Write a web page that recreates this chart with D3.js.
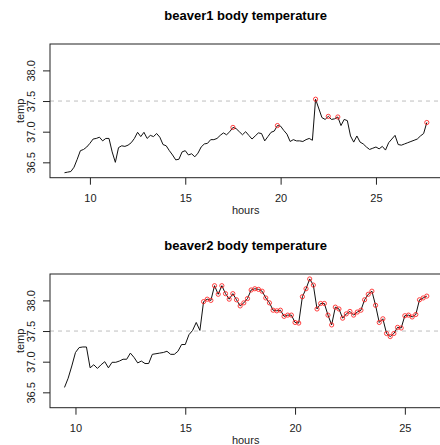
<!DOCTYPE html>
<html><head><meta charset="utf-8">
<script src="https://cdn.jsdelivr.net/npm/d3@7"></script>
<style>body{margin:0;background:#fff}svg{display:block}text{font-family:"Liberation Sans",Arial,sans-serif}</style>
</head><body>
<script>
// beaver1: day, time (HHMM), temp, activ
const b1Day = [346,346,346,346,346,346,346,346,346,346,346,346,346,346,346,346,346,346,346,346,346,346,346,346,346,346,346,346,346,346,346,346,346,346,346,346,346,346,346,346,346,346,346,346,346,346,346,346,346,346,346,346,346,346,346,346,346,346,346,346,346,346,346,346,346,346,346,346,346,346,346,346,346,346,346,346,346,346,346,346,346,346,346,346,346,346,346,346,346,346,346,347,347,347,347,347,347,347,347,347,347,347,347,347,347,347,347,347,347,347,347,347,347,347];
const b1Time = [840,850,900,910,920,930,940,950,1000,1010,1020,1030,1040,1050,1100,1110,1120,1130,1140,1150,1200,1210,1220,1230,1240,1250,1300,1310,1320,1330,1340,1350,1400,1410,1420,1430,1440,1450,1500,1510,1520,1530,1540,1550,1600,1610,1620,1630,1640,1650,1700,1710,1720,1730,1740,1750,1800,1810,1820,1830,1840,1850,1900,1910,1920,1930,1940,1950,2000,2010,2020,2030,2040,2050,2100,2110,2120,2130,2140,2150,2210,2220,2230,2240,2250,2300,2310,2320,2330,2340,2350,0,10,20,30,40,50,100,110,120,130,140,150,200,210,220,230,240,250,300,310,320,330,340];
const b1Temp = [36.33,36.34,36.35,36.42,36.55,36.69,36.71,36.75,36.81,36.88,36.89,36.91,36.85,36.89,36.89,36.67,36.50,36.74,36.77,36.76,36.78,36.82,36.89,36.99,36.92,36.99,36.89,36.94,36.92,36.97,36.91,36.79,36.77,36.69,36.62,36.54,36.55,36.67,36.69,36.62,36.64,36.59,36.65,36.75,36.80,36.81,36.87,36.87,36.89,36.94,36.98,36.95,37.00,37.07,37.05,37.00,36.95,37.00,36.94,36.88,36.93,36.98,36.97,36.85,36.92,36.99,37.01,37.10,37.09,37.02,36.96,36.84,36.87,36.85,36.85,36.84,36.87,36.89,36.86,37.53,37.23,37.20,37.25,37.20,37.21,37.24,37.10,37.20,37.18,36.93,36.83,36.93,36.83,36.80,36.75,36.71,36.73,36.75,36.72,36.76,36.70,36.82,36.88,36.94,36.79,36.78,36.80,36.82,36.84,36.86,36.88,36.93,36.97,37.15];
const b1Activ = [0,0,0,0,0,0,0,0,0,0,0,0,0,0,0,0,0,0,0,0,0,0,0,0,0,0,0,0,0,0,0,0,0,0,0,0,0,0,0,0,0,0,0,0,0,0,0,0,0,0,0,0,0,1,0,0,0,0,0,0,0,0,0,0,0,0,0,1,0,0,0,0,0,0,0,0,0,0,0,1,0,0,1,0,0,1,0,0,0,0,0,0,0,0,0,0,0,0,0,0,0,0,0,0,0,0,0,0,0,0,0,0,0,1];

// beaver2
const b2Day = [307,307,307,307,307,307,307,307,307,307,307,307,307,307,307,307,307,307,307,307,307,307,307,307,307,307,307,307,307,307,307,307,307,307,307,307,307,307,307,307,307,307,307,307,307,307,307,307,307,307,307,307,307,307,307,307,307,307,307,307,307,307,307,307,307,307,307,307,307,307,307,307,307,307,307,307,307,307,307,307,307,307,307,307,307,307,307,308,308,308,308,308,308,308,308,308,308,308,308,308];
const b2Time = [930,940,950,1000,1010,1020,1030,1040,1050,1100,1110,1120,1130,1140,1150,1200,1210,1220,1230,1240,1250,1300,1310,1320,1330,1340,1350,1400,1410,1420,1430,1440,1450,1500,1510,1520,1530,1540,1550,1600,1610,1620,1630,1640,1650,1700,1710,1720,1730,1740,1750,1800,1810,1820,1830,1840,1850,1900,1910,1920,1930,1940,1950,2000,2010,2020,2030,2040,2050,2100,2110,2120,2130,2140,2150,2200,2210,2220,2230,2240,2250,2300,2310,2320,2330,2340,2350,0,10,20,30,40,50,100,110,120,130,140,150,200];
const b2Temp = [36.58,36.73,36.93,37.15,37.23,37.24,37.24,36.90,36.95,36.89,36.95,37.00,36.90,36.99,36.99,37.01,37.04,37.04,37.14,37.07,36.98,37.01,36.97,36.97,37.12,37.13,37.14,37.15,37.17,37.12,37.12,37.17,37.28,37.28,37.44,37.51,37.64,37.51,37.98,38.02,38.00,38.24,38.10,38.24,38.11,38.02,38.11,38.01,37.91,37.96,38.03,38.17,38.19,38.18,38.15,38.04,37.96,37.84,37.83,37.84,37.74,37.76,37.76,37.64,37.63,38.06,38.19,38.35,38.25,37.86,37.95,37.95,37.76,37.60,37.89,37.86,37.71,37.78,37.82,37.76,37.81,37.84,38.01,38.10,38.15,37.92,37.64,37.70,37.46,37.41,37.46,37.56,37.55,37.75,37.76,37.73,37.77,38.01,38.04,38.07];
const b2Activ = [0,0,0,0,0,0,0,0,0,0,0,0,0,0,0,0,0,0,0,0,0,0,0,0,0,0,0,0,0,0,0,0,0,0,0,0,0,0,1,1,1,1,1,1,1,1,1,1,1,1,1,1,1,1,1,1,1,1,1,1,1,1,1,1,1,1,1,1,1,1,1,1,1,1,1,1,1,1,1,1,1,1,1,1,1,1,1,1,1,1,1,1,1,1,1,1,1,1,1,1];

const xTicks = [10, 15, 20, 25];
const yTicks = [36.5, 37.0, 37.5, 38.0];
const refLine = 37.5;
const titles = ["beaver1 body temperature", "beaver2 body temperature"];

const W = 440, H = 445;
const svg = d3.select("body").append("svg").attr("width", W).attr("height", H);

function ext(r) { const d = (r[1] - r[0]) * 0.04; return [r[0] - d, r[1] + d]; }
const yl = ext(d3.extent(b1Temp.concat(b2Temp)));

function panel(day, time, temp, activ, title, top) {
  const hours = time.map((t, i) => Math.floor(t / 100) + 24 * (day[i] - day[0]) + (t % 100) / 60);
  const data = hours.map((h, i) => ({h, t: temp[i], a: activ[i]}));
  const left = 50, right = 441.3, bottom = top + 133.7;
  const x = d3.scaleLinear().domain(ext(d3.extent(hours))).range([left, right]);
  const y = d3.scaleLinear().domain(yl).range([bottom, top]);
  const g = svg.append("g");

  g.append("text").attr("x", (left + right) / 2).attr("y", top - 28.3 + 4.5)
    .attr("text-anchor", "middle").attr("font-weight", "bold").attr("font-size", 13)
    .attr("fill", "#000").text(title);

  // x axis
  const xa = g.append("g").attr("transform", `translate(0,${bottom})`)
    .call(d3.axisBottom(x).tickValues(xTicks).tickSize(7).tickPadding(10).tickFormat(d3.format("d")));
  xa.select(".domain").remove();
  xa.selectAll("line").attr("stroke", "#222");
  xa.selectAll("text").attr("font-size", 11).attr("fill", "#222").attr("font-family", "Liberation Sans, Arial, sans-serif");

  // y axis
  const ya = g.append("g").attr("transform", `translate(${left},0)`)
    .call(d3.axisLeft(y).tickValues(yTicks).tickSize(7).tickFormat(d3.format(".1f")));
  ya.select(".domain").remove();
  ya.selectAll("line").attr("stroke", "#222");
  ya.selectAll("text").attr("font-size", 11).attr("fill", "#222").attr("font-family", "Liberation Sans, Arial, sans-serif")
    .attr("x", null).attr("dy", null)
    .attr("text-anchor", "middle")
    .attr("transform", "translate(-19,0) rotate(-90)")
    .attr("dy", "0.35em");

  g.append("text").attr("x", (left + right) / 2).attr("y", bottom + 36)
    .attr("text-anchor", "middle").attr("font-size", 11).attr("fill", "#222").text("hours");
  g.append("text").attr("transform", `translate(20,${(top + bottom) / 2}) rotate(-90)`)
    .attr("text-anchor", "middle").attr("dy", "0.35em").attr("font-size", 11).attr("fill", "#222").text("temp");

  // reference line
  g.append("line").attr("x1", left).attr("x2", right).attr("y1", y(refLine)).attr("y2", y(refLine))
    .attr("stroke", "#bebebe").attr("stroke-dasharray", "4,4");

  // series line
  g.append("path").datum(data)
    .attr("d", d3.line().x(d => x(d.h)).y(d => y(d.t)))
    .attr("fill", "none").attr("stroke", "#111").attr("stroke-width", 1);

  // active points
  g.selectAll("circle").data(data.filter(d => d.a === 1)).join("circle")
    .attr("cx", d => x(d.h)).attr("cy", d => y(d.t)).attr("r", 2.1)
    .attr("fill", "none").attr("stroke", "#ff2020").attr("stroke-width", 1).attr("opacity", 0.85);

  // box
  g.append("rect").attr("x", left).attr("y", top).attr("width", right - left).attr("height", bottom - top)
    .attr("fill", "none").attr("stroke", "#222").attr("stroke-width", 1);
}

panel(b1Day, b1Time, b1Temp, b1Activ, titles[0], 44);
panel(b2Day, b2Time, b2Temp, b2Activ, titles[1], 274);
</script>
</body></html>
